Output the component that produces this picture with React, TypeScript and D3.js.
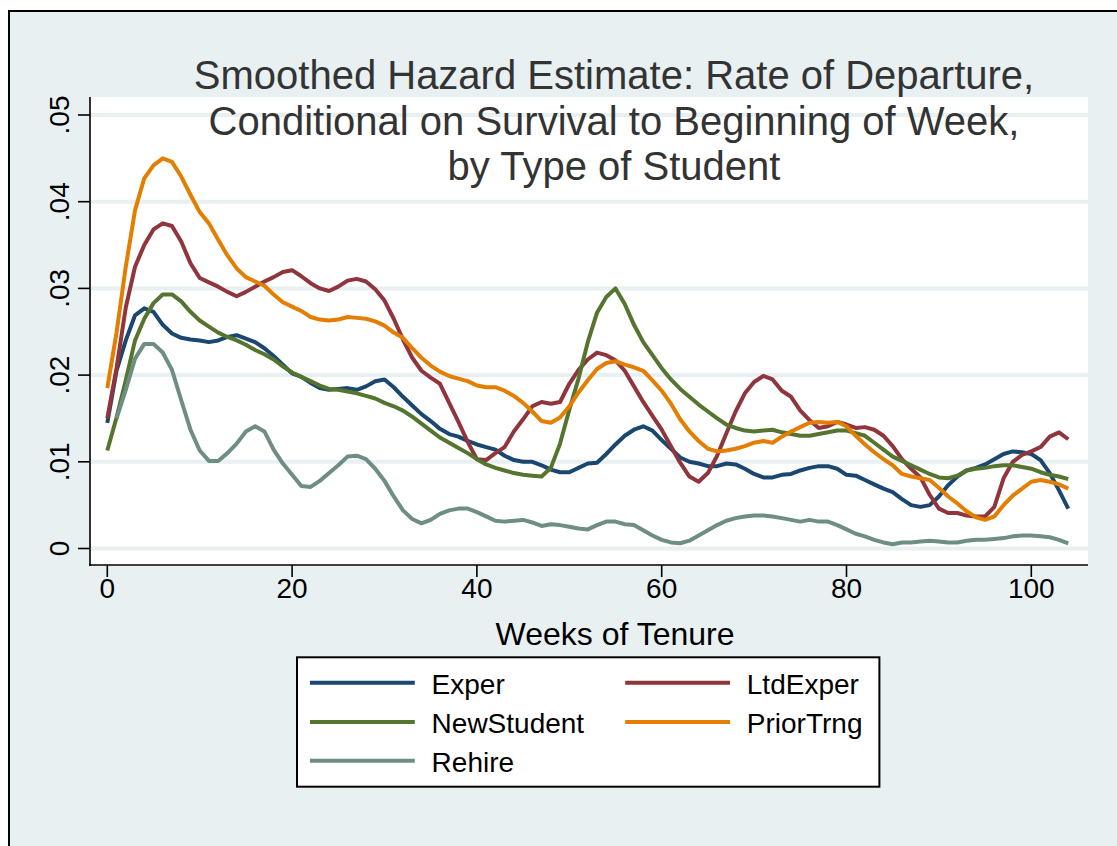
import React from "react";
import * as d3 from "d3";

// Week of tenure (0..104), one smoothed estimate per week
const weeks: number[] = d3.range(0, 105);

// Smoothed hazard values, in percent (×100)
const exper: (number | null)[] = [
  1.45, 2.05, 2.40, 2.69, 2.77, 2.73, 2.58, 2.48, 2.43, 2.41,
  2.40, 2.38, 2.40, 2.44, 2.46, 2.42, 2.38, 2.31, 2.22, 2.12,
  2.02, 1.98, 1.91, 1.85, 1.83, 1.84, 1.85, 1.83, 1.87, 1.93,
  1.95, 1.86, 1.75, 1.65, 1.55, 1.47, 1.38, 1.32, 1.29, 1.24,
  1.20, 1.17, 1.14, 1.07, 1.02, 1.00, 1.00, 0.96, 0.91, 0.88,
  0.88, 0.93, 0.98, 0.99, 1.09, 1.20, 1.30, 1.37, 1.41, 1.36,
  1.25, 1.15, 1.05, 1.00, 0.98, 0.95, 0.95, 0.98, 0.97, 0.92,
  0.86, 0.82, 0.82, 0.85, 0.86, 0.90, 0.93, 0.95, 0.95, 0.92,
  0.85, 0.84, 0.79, 0.74, 0.69, 0.65, 0.57, 0.50, 0.48, 0.50,
  0.60, 0.73, 0.83, 0.90, 0.93, 0.97, 1.03, 1.09, 1.12, 1.11,
  1.09, 1.02, 0.87, 0.67, 0.46,
];

const ltdExper: (number | null)[] = [
  1.50, 2.08, 2.78, 3.25, 3.50, 3.68, 3.75, 3.72, 3.54, 3.29,
  3.12, 3.07, 3.02, 2.96, 2.91, 2.96, 3.02, 3.08, 3.13, 3.19,
  3.21, 3.14, 3.06, 3.00, 2.97, 3.02, 3.09, 3.11, 3.08, 2.99,
  2.86, 2.65, 2.41, 2.20, 2.05, 1.97, 1.90, 1.68, 1.46, 1.23,
  1.03, 1.02, 1.10, 1.17, 1.35, 1.49, 1.64, 1.69, 1.67, 1.69,
  1.90, 2.06, 2.18, 2.26, 2.23, 2.17, 2.05, 1.87, 1.69, 1.53,
  1.37, 1.18, 0.99, 0.83, 0.77, 0.87, 1.07, 1.33, 1.58, 1.79,
  1.92, 1.99, 1.95, 1.82, 1.75, 1.59, 1.48, 1.39, 1.41, 1.46,
  1.43, 1.39, 1.40, 1.37, 1.30, 1.18, 1.03, 0.92, 0.82, 0.62,
  0.46, 0.41, 0.41, 0.38, 0.37, 0.37, 0.48, 0.81, 1.00, 1.08,
  1.12, 1.17, 1.29, 1.34, 1.26,
];

const newStudent: (number | null)[] = [
  1.13, 1.51, 1.94, 2.40, 2.65, 2.83, 2.93, 2.93, 2.85, 2.73,
  2.63, 2.56, 2.49, 2.44, 2.40, 2.35, 2.29, 2.24, 2.18, 2.10,
  2.03, 1.98, 1.93, 1.88, 1.84, 1.83, 1.81, 1.79, 1.76, 1.73,
  1.68, 1.64, 1.59, 1.52, 1.44, 1.36, 1.28, 1.22, 1.16, 1.10,
  1.03, 0.97, 0.93, 0.90, 0.87, 0.85, 0.84, 0.83, 0.93, 1.21,
  1.60, 1.96, 2.38, 2.72, 2.90, 3.00, 2.82, 2.58, 2.38, 2.23,
  2.08, 1.95, 1.84, 1.75, 1.66, 1.58, 1.50, 1.43, 1.39, 1.36,
  1.35, 1.36, 1.37, 1.34, 1.32, 1.30, 1.30, 1.32, 1.34, 1.36,
  1.36, 1.33, 1.30, 1.22, 1.14, 1.06, 1.01, 0.96, 0.91, 0.86,
  0.82, 0.81, 0.84, 0.90, 0.92, 0.93, 0.95, 0.96, 0.96, 0.94,
  0.92, 0.88, 0.85, 0.83, 0.80,
];

const priorTrng: (number | null)[] = [
  1.85, 2.49, 3.25, 3.90, 4.27, 4.42, 4.50, 4.46, 4.29, 4.08,
  3.88, 3.75, 3.56, 3.38, 3.23, 3.13, 3.08, 3.03, 2.93, 2.84,
  2.79, 2.74, 2.67, 2.64, 2.63, 2.64, 2.67, 2.66, 2.65, 2.62,
  2.57, 2.49, 2.43, 2.31, 2.20, 2.11, 2.04, 1.99, 1.96, 1.93,
  1.88, 1.86, 1.86, 1.82, 1.76, 1.68, 1.58, 1.47, 1.45, 1.51,
  1.64, 1.80, 1.94, 2.07, 2.14, 2.16, 2.12, 2.09, 2.05, 1.94,
  1.82, 1.67, 1.49, 1.35, 1.24, 1.15, 1.12, 1.13, 1.15, 1.18,
  1.22, 1.24, 1.22, 1.29, 1.35, 1.40, 1.45, 1.46, 1.45, 1.46,
  1.41, 1.30, 1.20, 1.11, 1.03, 0.96, 0.86, 0.83, 0.81, 0.79,
  0.70, 0.60, 0.52, 0.43, 0.36, 0.33, 0.37, 0.50, 0.61, 0.69,
  0.77, 0.79, 0.77, 0.74, 0.69,
];

const rehire: (number | null)[] = [
  null, 1.50, 1.83, 2.19, 2.36, 2.36, 2.26, 2.06, 1.71, 1.37,
  1.13, 1.01, 1.01, 1.10, 1.21, 1.35, 1.41, 1.35, 1.14, 0.98,
  0.85, 0.72, 0.71, 0.78, 0.87, 0.96, 1.06, 1.07, 1.03, 0.92,
  0.78, 0.60, 0.44, 0.34, 0.29, 0.33, 0.40, 0.44, 0.46, 0.46,
  0.42, 0.37, 0.32, 0.31, 0.32, 0.33, 0.30, 0.26, 0.28, 0.27,
  0.25, 0.23, 0.22, 0.27, 0.31, 0.31, 0.28, 0.27, 0.21, 0.15,
  0.10, 0.07, 0.06, 0.09, 0.15, 0.21, 0.27, 0.32, 0.35, 0.37,
  0.38, 0.38, 0.37, 0.35, 0.33, 0.31, 0.33, 0.31, 0.31, 0.27,
  0.22, 0.17, 0.14, 0.10, 0.07, 0.05, 0.07, 0.07, 0.08, 0.09,
  0.08, 0.07, 0.07, 0.09, 0.10, 0.10, 0.11, 0.12, 0.14, 0.15,
  0.15, 0.14, 0.13, 0.10, 0.06,
];

const seriesNames = ["Exper", "LtdExper", "NewStudent", "PriorTrng", "Rehire"];
const seriesColors = ["#1a476f", "#90353b", "#55752f", "#e37e00", "#6e8e84"];
const seriesValues = [exper, ltdExper, newStudent, priorTrng, rehire];

const yTickValues = [0, 0.01, 0.02, 0.03, 0.04, 0.05];
const yTickLabels = ["0", ".01", ".02", ".03", ".04", ".05"];
const xTickValues = [0, 20, 40, 60, 80, 100];
const xTickLabels = ["0", "20", "40", "60", "80", "100"];

const titleLines = [
  "Smoothed Hazard Estimate: Rate of Departure,",
  "Conditional on Survival to Beginning of Week,",
  "by Type of Student",
];
const xAxisTitle = "Weeks of Tenure";

const FONT = "'Liberation Sans', Arial, Helvetica, sans-serif";
const BG = "#e8f0f2";

export default function App() {
  const W = 1117;
  const H = 846;
  const plot = { left: 90, top: 97, right: 1088, bottom: 565 };

  const x = d3.scaleLinear().domain([0, 100]).range([107.3, 1031.3]);
  const y = d3.scaleLinear().domain([0, 0.05]).range([548.5, 115]);

  const line = d3
    .line<number | null>()
    .defined((d) => d !== null)
    .x((_, i) => x(weeks[i]))
    .y((d) => y((d as number) / 100));

  const legendItems = [
    { col: 0, row: 0 },
    { col: 1, row: 0 },
    { col: 0, row: 1 },
    { col: 1, row: 1 },
    { col: 0, row: 2 },
  ];
  const legendRowY = [682.7, 722, 760.7];
  const legendColX = [310, 625.2];

  return (
    <svg
      width={W}
      height={H}
      style={{ position: "absolute", left: 0, top: 0 }}
      fontFamily={FONT}
    >
      <rect x={0} y={0} width={W} height={H} fill="#ffffff" />
      <rect x={9} y={11} width={1300} height={1000} fill={BG} stroke="#000" strokeWidth={2} />

      {/* plot region */}
      <rect
        x={plot.left}
        y={plot.top}
        width={plot.right - plot.left}
        height={plot.bottom - plot.top}
        fill="#ffffff"
      />

      {/* gridlines */}
      {yTickValues.map((v) => (
        <line
          key={v}
          x1={plot.left}
          x2={plot.right}
          y1={y(v)}
          y2={y(v)}
          stroke={BG}
          strokeWidth={4}
        />
      ))}

      {/* title */}
      {titleLines.map((t, i) => (
        <text
          key={i}
          x={614}
          y={89 + i * 45.5}
          textAnchor="middle"
          fontSize={40}
          fill="#333333"
        >
          {t}
        </text>
      ))}

      {/* series */}
      {seriesValues.map((vals, i) => (
        <path
          key={seriesNames[i]}
          d={line(vals) || ""}
          fill="none"
          stroke={seriesColors[i]}
          strokeWidth={4}
          strokeLinejoin="round"
        />
      ))}

      {/* axes */}
      <line x1={plot.left} x2={plot.left} y1={plot.top} y2={plot.bottom + 1} stroke="#000" strokeWidth={1.6} />
      <line x1={plot.left - 1} x2={plot.right} y1={plot.bottom} y2={plot.bottom} stroke="#000" strokeWidth={1.6} />
      {yTickValues.map((v, i) => (
        <g key={"yt" + v}>
          <line x1={plot.left - 12} x2={plot.left} y1={y(v)} y2={y(v)} stroke="#000" strokeWidth={1.6} />
          <text
            transform={`translate(68.5,${y(v)}) rotate(-90)`}
            textAnchor="middle"
            fontSize={28}
            fill="#000"
          >
            {yTickLabels[i]}
          </text>
        </g>
      ))}
      {xTickValues.map((v, i) => (
        <g key={"xt" + v}>
          <line x1={x(v)} x2={x(v)} y1={plot.bottom} y2={plot.bottom + 12} stroke="#000" strokeWidth={1.6} />
          <text x={x(v)} y={598} textAnchor="middle" fontSize={28} fill="#000">
            {xTickLabels[i]}
          </text>
        </g>
      ))}
      <text x={615} y={645} textAnchor="middle" fontSize={32} fill="#000">
        {xAxisTitle}
      </text>

      {/* legend */}
      <rect x={297} y={657.3} width={582.4} height={129.4} fill="#fff" stroke="#000" strokeWidth={2} />
      {legendItems.map((r, i) => (
        <g key={seriesNames[i]}>
          <line
            x1={legendColX[r.col]}
            x2={legendColX[r.col] + 104.8}
            y1={legendRowY[r.row]}
            y2={legendRowY[r.row]}
            stroke={seriesColors[i]}
            strokeWidth={4}
          />
          <text
            x={legendColX[r.col] + 121.6}
            y={legendRowY[r.row] + 11}
            fontSize={28}
            fill="#000"
          >
            {seriesNames[i]}
          </text>
        </g>
      ))}
    </svg>
  );
}
